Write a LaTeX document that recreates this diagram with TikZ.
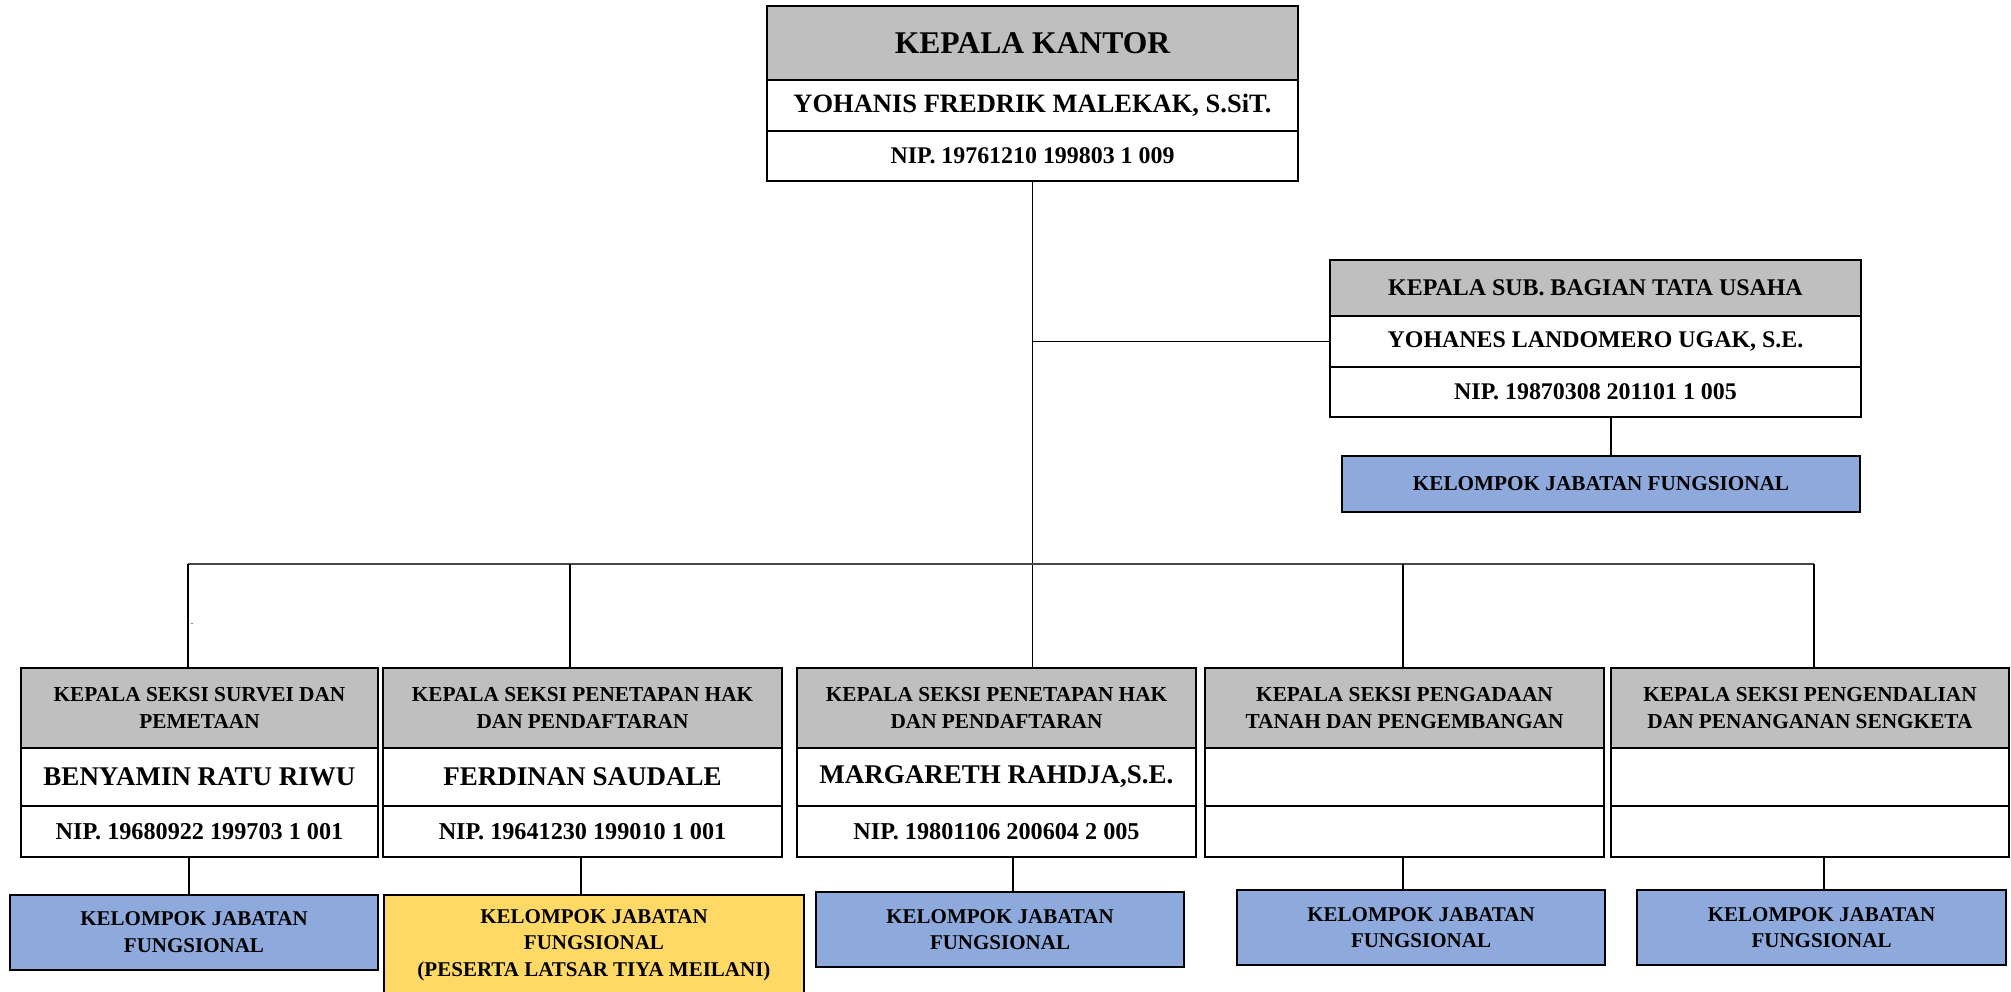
\documentclass[tikz,border=0pt]{standalone}
\usepackage{fontspec}
\setmainfont{Liberation Serif}
\usetikzlibrary{positioning}
\definecolor{headgray}{RGB}{191,191,191}
\definecolor{fungblue}{RGB}{142,169,219}
\definecolor{latsaryellow}{RGB}{255,217,102}
\definecolor{busgray}{RGB}{70,70,70}

\begin{document}
\begin{tikzpicture}[x=1pt, y=-1pt,
    box/.style={draw, line width=2pt, outer sep=0pt, inner sep=0pt, align=center},
    head/.style={box, fill=headgray},
    row/.style={box, fill=white},
    fung/.style={box, fill=fungblue, minimum width=368, minimum height=75,
                 font=\bfseries\fontsize{21}{26.5}\selectfont},
    link/.style={line width=1.5pt},
    bus/.style={line width=2pt, busgray}]

    \useasboundingbox (0,0) rectangle (2011,992);

    % Kepala Kantor
    \node[head, minimum width=531, minimum height=74, font=\bfseries\fontsize{31.6}{37}\selectfont] (kk) at (1032.5,43) {KEPALA KANTOR};
    \node[row, minimum width=531, minimum height=51, font=\bfseries\fontsize{26.5}{31}\selectfont, below=0pt of kk] (kkname) {YOHANIS FREDRIK MALEKAK, S.SiT.};
    \node[row, minimum width=531, minimum height=50, font=\bfseries\fontsize{23.9}{28}\selectfont, below=0pt of kkname] (kknip) {NIP. 19761210 199803 1 009};

    % Sub. Bagian Tata Usaha
    \node[head, minimum width=531, minimum height=56, font=\bfseries\fontsize{23.9}{28}\selectfont] (sub) at (1595.5,288) {KEPALA SUB. BAGIAN TATA USAHA};
    \node[row, minimum width=531, minimum height=51, font=\bfseries\fontsize{23.9}{28}\selectfont, below=0pt of sub] (subname) {YOHANES LANDOMERO UGAK, S.E.};
    \node[row, minimum width=531, minimum height=50, font=\bfseries\fontsize{23.9}{28}\selectfont, below=0pt of subname] (subnip) {NIP. 19870308 201101 1 005};
    \node[fung, minimum width=518, minimum height=56, font=\bfseries\fontsize{21.2}{25}\selectfont] (subfung) at (1601,484) {KELOMPOK JABATAN FUNGSIONAL};

    % Kepala Seksi
    \foreach \i/\cx/\w/\title/\name/\nip in {
        1/199.5/357/{KEPALA SEKSI SURVEI DAN\\PEMETAAN}/{BENYAMIN RATU RIWU}/{NIP. 19680922 199703 1 001},
        2/582.5/399/{KEPALA SEKSI PENETAPAN HAK\\DAN PENDAFTARAN}/{FERDINAN SAUDALE}/{NIP. 19641230 199010 1 001},
        3/996.5/399/{KEPALA SEKSI PENETAPAN HAK\\DAN PENDAFTARAN}/{MARGARETH RAHDJA,S.E.}/{NIP. 19801106 200604 2 005},
        4/1404.5/399/{KEPALA SEKSI PENGADAAN\\TANAH DAN PENGEMBANGAN}/{}/{},
        5/1810/398/{KEPALA SEKSI PENGENDALIAN\\DAN PENANGANAN SENGKETA}/{}/{}}
    {
        \node[head, minimum width=\w, minimum height=80, font=\bfseries\fontsize{21.3}{26.5}\selectfont] (sek\i) at (\cx,708) {\title};
        \node[row, minimum width=\w, minimum height=58, font=\bfseries\fontsize{27}{31}\selectfont, below=0pt of sek\i] (sek\i name) {\name};
        \node[row, minimum width=\w, minimum height=51, font=\bfseries\fontsize{24.2}{28}\selectfont, below=0pt of sek\i name] (sek\i nip) {\nip};
    }

    % Kelompok Jabatan Fungsional
    \node[fung] (fung1) at (194,932) {KELOMPOK JABATAN\\FUNGSIONAL};
    \node[fung, fill=latsaryellow, minimum width=420, minimum height=100] (fung2) at (594,945) {KELOMPOK JABATAN\\FUNGSIONAL\\(PESERTA LATSAR TIYA MEILANI)};
    \node[fung] (fung3) at (1000,929.5) {KELOMPOK JABATAN\\FUNGSIONAL};
    \node[fung] (fung4) at (1421,927.5) {KELOMPOK JABATAN\\FUNGSIONAL};
    \node[fung, minimum width=369] (fung5) at (1821.5,927.5) {KELOMPOK JABATAN\\FUNGSIONAL};

    \node[font=\fontsize{10}{12}\selectfont] (dot) at (192,624) {.};

    % Lines
    \coordinate (drop1) at (188,564);
    \coordinate (drop2) at (570,564);
    \coordinate (drop4) at (1403,564);
    \coordinate (drop5) at (1814,564);

    \draw[link] (kknip.south) -- (kknip.south |- sek3.north);
    \draw[link] (kknip.south |- subname.west) -- (subname.west);
    \draw[link] ([xshift=10]subfung.north) -- ([xshift=10]subfung.north |- subnip.south);
    \draw[bus] (drop1) -- (drop5);
    \foreach \i in {1,2,4,5}
        \draw[link] (drop\i) -- (drop\i |- sek\i.north);
    \foreach \i/\dx in {1/-10.5,2/-1.5,3/16.5,4/-1.5,5/14}
        \draw[link] ([xshift=\dx]sek\i nip.south) -- ([xshift=\dx]sek\i nip.south |- fung\i.north);
\end{tikzpicture}
\end{document}
